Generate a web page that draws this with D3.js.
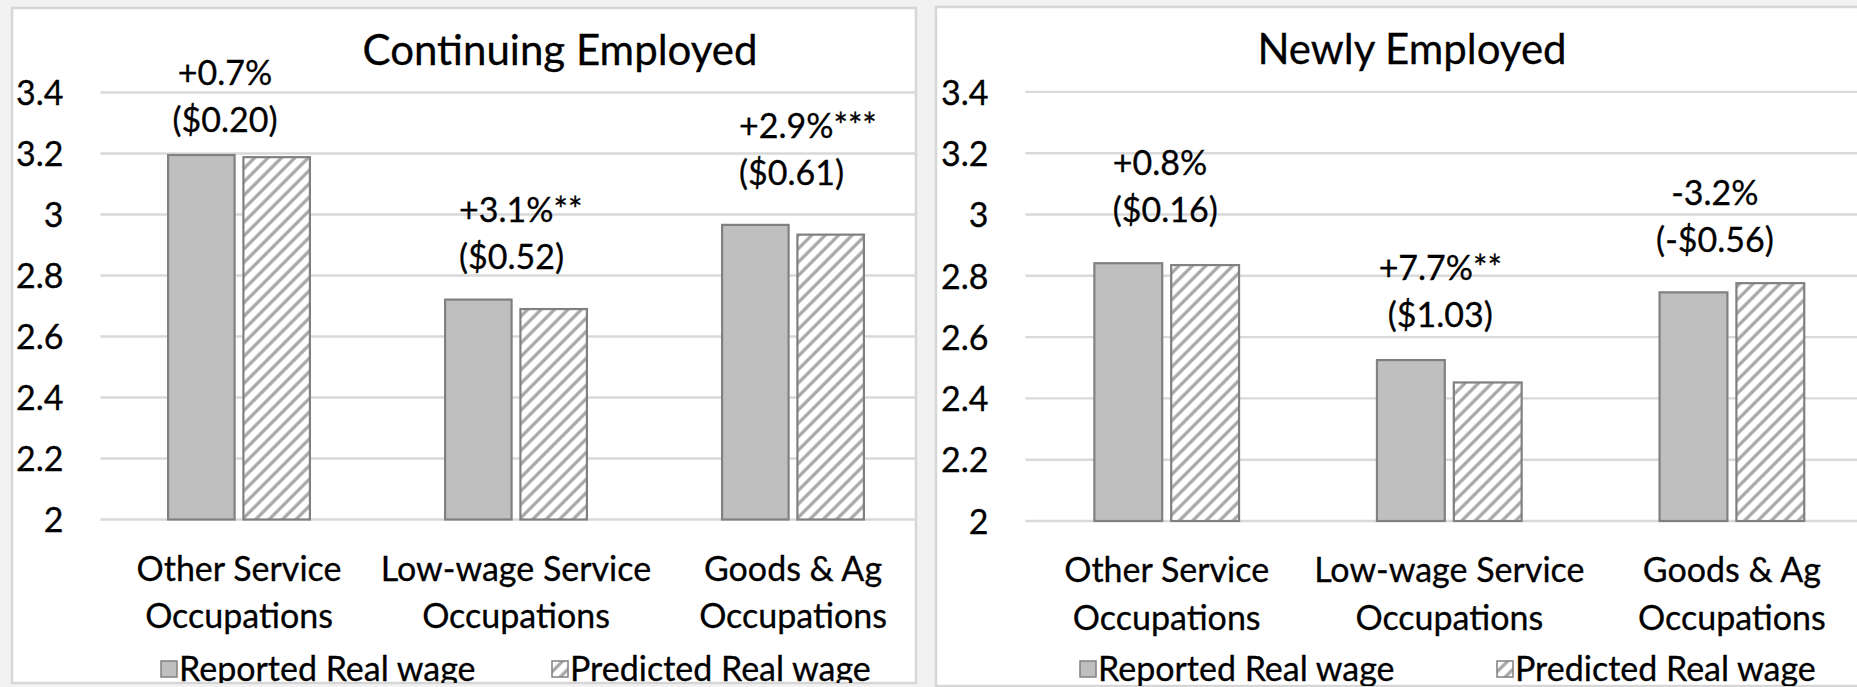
<!DOCTYPE html>
<html>
<head>
<meta charset="utf-8">
<script src="https://cdn.jsdelivr.net/npm/d3@7"></script>
<style>
  html, body { margin: 0; padding: 0; background: #f2f2f2; }
  svg { display: block; font-family: Lato, "Noto Sans", sans-serif; }
  svg text { stroke: #000; stroke-width: 0.3px; }
</style>
</head>
<body>
<div id="chart"></div>
<script>
const width = 1857;
const height = 687;

// data
const categories = [["Other Service", "Occupations"], ["Low-wage Service", "Occupations"], ["Goods & Ag", "Occupations"]];
const seriesNames = ["Reported Real wage", "Predicted Real wage"];
const yTicks = [2, 2.2, 2.4, 2.6, 2.8, 3, 3.2, 3.4];

const contReported = [3.195, 2.721, 2.966];
const contPredicted = [3.188, 2.690, 2.934];
const contLabels = [["+0.7%", "($0.20)"], ["+3.1%**", "($0.52)"], ["+2.9%***", "($0.61)"]];

const newReported = [2.841, 2.525, 2.746];
const newPredicted = [2.835, 2.452, 2.776];
const newLabels = [["+0.8%", "($0.16)"], ["+7.7%**", "($1.03)"], ["-3.2%", "(-$0.56)"]];

// layout of each panel (px), label anchors in value units
const panels = [
    {
        title: "Continuing Employed", reported: contReported, predicted: contPredicted, labels: contLabels,
        box: [12, 8, 904, 675], x0: 100.5, step: 277, yBottom: 519.5, yTop: 92.5,
        titleX: 560, titleY: 50,
        labelAt: [3.464, 3.015, 3.292], labelDx: [-14, -57, -54], labelAnchor: ["middle", "start", "start"],
        legendX: [161, 552]
    },
    {
        title: "Newly Employed", reported: newReported, predicted: newPredicted, labels: newLabels,
        box: [936, 7, 940, 679], x0: 1025.4, step: 282.6, yBottom: 521, yTop: 91.9,
        titleX: 1412, titleY: 49,
        labelAt: [3.17, 2.825, 3.072], labelDx: [-54, -9, -17], labelAnchor: ["start", "middle", "middle"],
        legendX: [1080, 1497]
    }
];

const fs = 34;
const titleFs = 42;
const svg = d3.select('#chart').append('svg').attr('width', width).attr('height', height);

svg.append('rect').attr('width', width).attr('height', height).attr('fill', '#f2f2f2');

const defs = svg.append('defs');
const hatch = defs.append('pattern')
    .attr('id', 'hatch')
    .attr('patternUnits', 'userSpaceOnUse')
    .attr('width', 9.5).attr('height', 9.5)
    .attr('patternTransform', 'rotate(45)');
hatch.append('rect').attr('width', 9.5).attr('height', 9.5).attr('fill', '#ffffff');
hatch.append('line').attr('x1', 2).attr('x2', 2).attr('y1', 0).attr('y2', 9.5)
    .attr('stroke', '#a6a6a6').attr('stroke-width', 3.2);

panels.forEach((p, pi) => {
    const [bx, by, bw, bh] = p.box;

    defs.append('clipPath').attr('id', 'clip' + pi)
        .append('rect').attr('x', bx).attr('y', by).attr('width', bw).attr('height', bh);

    const g = svg.append('g');
    g.append('rect')
        .attr('x', bx).attr('y', by).attr('width', bw).attr('height', bh)
        .attr('fill', '#ffffff').attr('stroke', '#d6d6d6').attr('stroke-width', 2.5);

    const inner = g.append('g').attr('clip-path', 'url(#clip' + pi + ')');

    const x = d3.scaleBand().domain(d3.range(categories.length))
        .range([p.x0, p.x0 + p.step * categories.length]);
    const y = d3.scaleLinear().domain([2, 3.4]).range([p.yBottom, p.yTop]);

    const barW = p.step * 0.226;
    const gap = p.step * 0.06;
    const sub = d3.scaleBand().domain([0, 1])
        .range([x.bandwidth() / 2 - barW - gap / 2, x.bandwidth() / 2 + barW + gap / 2])
        .paddingInner(gap / (2 * barW + gap));

    // gridlines
    inner.selectAll('line.grid').data(yTicks).enter().append('line')
        .attr('class', 'grid')
        .attr('x1', p.x0).attr('x2', p.x0 + p.step * categories.length)
        .attr('y1', d => y(d)).attr('y2', d => y(d))
        .attr('stroke', '#d9d9d9').attr('stroke-width', 2.4);

    // y tick labels
    const yAxis = d3.axisLeft(y).tickValues(yTicks).tickSize(0).tickPadding(37).tickFormat(d3.format('~g'));
    const ax = inner.append('g').attr('transform', 'translate(' + p.x0 + ',0)').call(yAxis);
    ax.select('.domain').remove();
    ax.selectAll('text')
        .attr('font-family', 'Lato').attr('font-size', fs).attr('fill', '#000')
        .attr('dy', (0.36 * fs) + 'px');

    // bars
    const rows = categories.map((c, i) => ({ i: i, vals: [p.reported[i], p.predicted[i]] }));
    const grp = inner.selectAll('g.cat').data(rows).enter().append('g')
        .attr('class', 'cat')
        .attr('transform', d => 'translate(' + x(d.i) + ',0)');
    grp.selectAll('rect').data(d => d.vals.map((v, k) => ({ k: k, v: v }))).enter().append('rect')
        .attr('x', d => sub(d.k))
        .attr('width', sub.bandwidth())
        .attr('y', d => y(d.v))
        .attr('height', d => y(2) - y(d.v))
        .attr('fill', d => d.k === 0 ? '#bfbfbf' : 'url(#hatch)')
        .attr('stroke', '#808080').attr('stroke-width', 2.2);

    // data labels
    const lab = inner.selectAll('text.lab').data(p.labels).enter().append('text')
        .attr('class', 'lab')
        .attr('font-size', fs).attr('fill', '#000')
        .attr('text-anchor', (d, i) => p.labelAnchor[i])
        .attr('transform', (d, i) => 'translate(' + (x(i) + x.bandwidth() / 2 + p.labelDx[i]) + ',' + (y(p.labelAt[i]) + 0.36 * fs) + ')');
    lab.selectAll('tspan').data(d => d).enter().append('tspan')
        .attr('x', 0).attr('y', (d, k) => k * 47)
        .text(d => d);

    // category labels
    const cat = inner.selectAll('text.catlab').data(categories).enter().append('text')
        .attr('class', 'catlab')
        .attr('font-size', fs).attr('fill', '#000').attr('text-anchor', 'middle')
        .attr('transform', (d, i) => 'translate(' + (x(i) + x.bandwidth() / 2) + ',' + (p.yBottom + 49 + 0.36 * fs) + ')');
    cat.selectAll('tspan').data(d => d).enter().append('tspan')
        .attr('x', 0).attr('y', (d, k) => k * 47.5)
        .text(d => d);

    // title
    inner.append('text')
        .attr('x', p.titleX).attr('y', p.titleY + 0.36 * titleFs)
        .attr('text-anchor', 'middle').attr('font-size', titleFs).attr('fill', '#000')
        .text(p.title);

    // legend
    const legY = 669;
    const leg = inner.selectAll('g.leg').data(seriesNames).enter().append('g')
        .attr('class', 'leg')
        .attr('transform', (d, i) => 'translate(' + p.legendX[i] + ',' + legY + ')');
    leg.append('rect')
        .attr('x', 0).attr('y', -8).attr('width', 16).attr('height', 16)
        .attr('fill', (d, i) => i === 0 ? '#bfbfbf' : 'url(#hatch)')
        .attr('stroke', '#808080').attr('stroke-width', 1.5);
    leg.append('text')
        .attr('x', 18).attr('y', 0.36 * fs)
        .attr('font-size', fs).attr('fill', '#000')
        .text(d => d);
});
</script>
</body>
</html>
